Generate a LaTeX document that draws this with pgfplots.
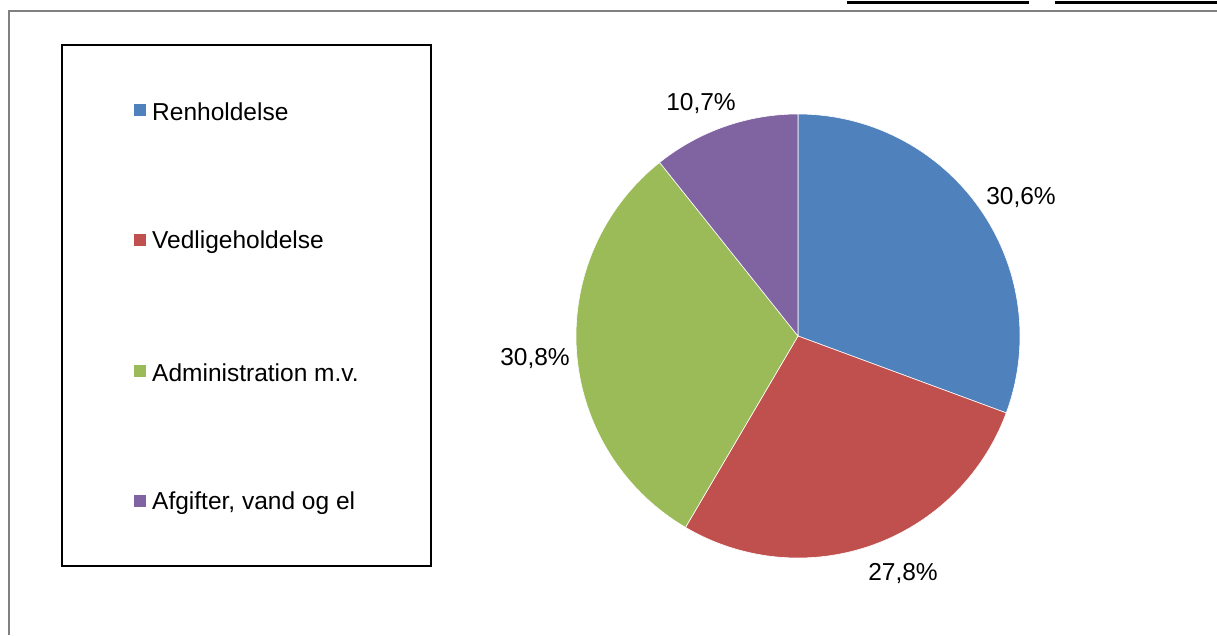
\documentclass[border=0pt]{standalone}
\usepackage{pgfplots}
\pgfplotsset{compat=1.18}
\usepackage{fontspec}
\setmainfont{Liberation Sans}
\definecolor{cBlue}{HTML}{4F81BD}
\definecolor{cRed}{HTML}{C0504D}
\definecolor{cGreen}{HTML}{9BBB59}
\definecolor{cPurple}{HTML}{8064A2}
\definecolor{frameGray}{HTML}{808080}
% pie shares (percent), clockwise from 12 o'clock
\def\vA{30.6}\def\vB{27.8}\def\vC{30.8}\def\vD{10.7}
\begin{document}
\begin{tikzpicture}[lbl/.style={font=\fontsize{24.5bp}{29bp}\selectfont}]
\begin{axis}[
  name=ax,
  width=1217bp, height=635bp, scale only axis,
  xmin=0, xmax=1217, ymin=0, ymax=635, y dir=reverse,
  hide axis, clip=false,
]
\pgfmathsetmacro{\tot}{\vA+\vB+\vC+\vD}
\pgfmathsetmacro{\aA}{90}
\pgfmathsetmacro{\aB}{\aA-360*\vA/\tot}
\pgfmathsetmacro{\aC}{\aB-360*\vB/\tot}
\pgfmathsetmacro{\aD}{\aC-360*\vC/\tot}
\pgfmathsetmacro{\aE}{\aD-360*\vD/\tot}
% outer frame
\draw[frameGray, line width=2bp] (axis cs:9,635) -- (axis cs:9,11) -- (axis cs:1217,11);
\draw[black, line width=3.5bp] (axis cs:847,2.5) -- (axis cs:1029,2.5);
\draw[black, line width=3.5bp] (axis cs:1055,2.5) -- (axis cs:1217,2.5);
% pie slices
\fill[cBlue, draw=white, line width=0.6bp] (axis cs:798,336) -- ++(\aA:222bp) arc[start angle=\aA, end angle=\aB, radius=222bp] -- cycle;
\fill[cRed, draw=white, line width=0.6bp] (axis cs:798,336) -- ++(\aB:222bp) arc[start angle=\aB, end angle=\aC, radius=222bp] -- cycle;
\fill[cGreen, draw=white, line width=0.6bp] (axis cs:798,336) -- ++(\aC:222bp) arc[start angle=\aC, end angle=\aD, radius=222bp] -- cycle;
\fill[cPurple, draw=white, line width=0.6bp] (axis cs:798,336) -- ++(\aD:222bp) arc[start angle=\aD, end angle=\aE, radius=222bp] -- cycle;
% data labels
\node[lbl] at (axis cs:701,104) {10,7\%};
\node[lbl] at (axis cs:1021,198) {30,6\%};
\node[lbl] at (axis cs:535,359) {30,8\%};
\node[lbl] at (axis cs:903,574) {27,8\%};
% legend
\draw[black, line width=1.2bp] (axis cs:62,45) rectangle (axis cs:431,566);
\fill[cBlue] (axis cs:134,104) rectangle (axis cs:146,116);
\fill[cRed] (axis cs:134,234) rectangle (axis cs:146,246);
\fill[cGreen] (axis cs:134,365) rectangle (axis cs:146,377);
\fill[cPurple] (axis cs:134,495) rectangle (axis cs:146,507);
\node[lbl, anchor=west, inner sep=0pt] at (axis cs:152,112) {Renholdelse};
\node[lbl, anchor=west, inner sep=0pt] at (axis cs:152,242) {Vedligeholdelse};
\node[lbl, anchor=west, inner sep=0pt] at (axis cs:152,373) {Administration m.v.};
\node[lbl, anchor=west, inner sep=0pt] at (axis cs:152,503) {Afgifter, vand og el};
\end{axis}
\pgfresetboundingbox
\path[use as bounding box] (ax.south west) rectangle (ax.north east);
\end{tikzpicture}
\end{document}
